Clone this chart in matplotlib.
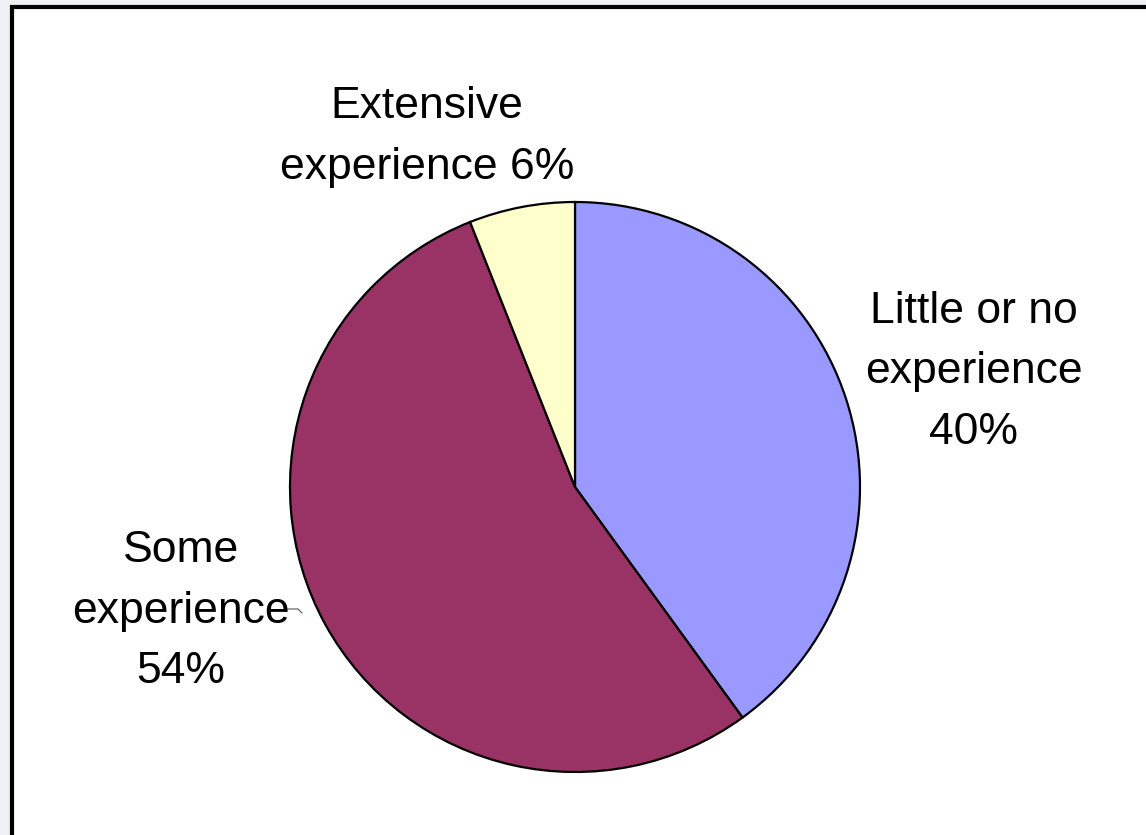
import matplotlib.pyplot as plt
from matplotlib.patches import Rectangle

categories = ['Little or no experience', 'Some experience', 'Extensive experience']
shares = [40, 54, 6]
colors = ['#9999FF', '#993366', '#FFFFCC']
label_texts = ['Little or no\nexperience\n40%', 'Some\nexperience\n54%', 'Extensive\nexperience 6%']

W, H = 1146, 835
fig = plt.figure(figsize=(W / 100, H / 100), dpi=100)
fig.patch.set_facecolor('#eef0f4')
ax = fig.add_axes([0, 0, 1, 1])

cx, cy, r = 575, H - 487, 285
ax.pie(shares, colors=colors, startangle=90, counterclock=False,
       center=(cx, cy), radius=r, frame=True,
       wedgeprops=dict(edgecolor='black', linewidth=1.6))
ax.set_xlim(0, W)
ax.set_ylim(0, H)
ax.set_aspect('auto')
ax.axis('off')

# white chart area with black border (runs off the right/bottom edges)
ax.add_patch(Rectangle((12, -20), W + 20, H - 7 + 20, facecolor='white',
                       edgecolor='black', linewidth=3, zorder=0))

font = dict(family='Liberation Sans', fontsize=32, color='black',
            ha='center', va='center', linespacing=1.6)
label_pos = [(974, H - 372), (181, H - 611), (427, H - 137)]
for txt, (x, y) in zip(label_texts, label_pos):
    ax.text(x, y, txt, **font)

# leader line for "Some experience"
ax.plot([288, 298, 302], [H - 609, H - 609, H - 613], color='#555555', linewidth=0.8)

fig.savefig('out.png', dpi=100, facecolor=fig.get_facecolor())
